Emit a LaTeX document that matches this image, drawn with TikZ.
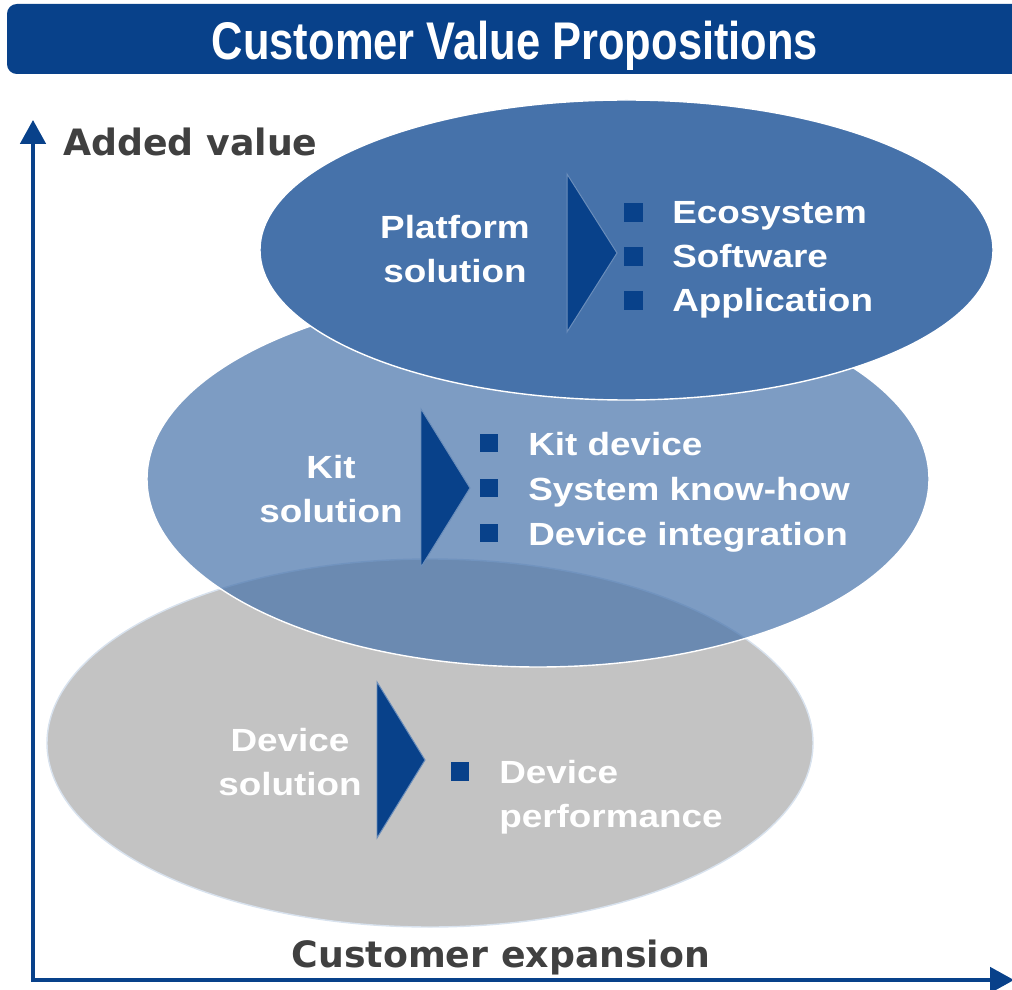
\documentclass[tikz,border=0pt]{standalone}
\usepackage{fontspec}
\usepackage{tikz}
\usetikzlibrary{arrows.meta}
\setmainfont{Liberation Sans}
\newfontfamily\widefont[FakeStretch=1.15]{Liberation Sans}
\newfontfamily\narrowfont[FakeStretch=0.82]{Liberation Sans}
\newfontfamily\axisfont{DejaVu Sans}
\definecolor{navy}{HTML}{08418A}
\definecolor{ovalblue}{HTML}{4672AA}
\definecolor{ovalgrey}{HTML}{C3C3C3}
\definecolor{ovaledge}{HTML}{D8E2EE}
\definecolor{labelgrey}{HTML}{404040}
\tikzset{
  lbl/.style={text=white, align=center, inner sep=0pt, font=\widefont\bfseries\fontsize{22.8pt}{31.6pt}\selectfont},
  itm/.style={text=white, anchor=base west, inner sep=0pt, font=\widefont\bfseries\fontsize{22.8pt}{31.6pt}\selectfont},
  bul/.style={fill=navy, minimum size=13.5pt, inner sep=0pt},
  axlbl/.style={text=labelgrey, anchor=base, inner sep=0pt, font=\axisfont\bfseries\fontsize{25.8pt}{30pt}\selectfont},
  axis/.style={draw=navy, line width=2.6pt, line cap=rect, -{Triangle[length=17pt,width=18pt]}},
  chev/.style={fill=navy, draw=ovalblue!80!white, line width=0.7pt},
}

\begin{document}
\begin{tikzpicture}[x=0.025cm,y=-0.025cm]
\clip (0,0) rectangle (1012,990);
% title bar
\fill[navy, rounded corners=7pt] (7,4) rectangle (1040,74);
\node[text=white, anchor=base, inner sep=0pt, font=\narrowfont\bfseries\fontsize{37.7pt}{40pt}\selectfont] (title) at (515,60) {Customer Value Propositions};
% axes
\coordinate (origin) at (33,980);
\coordinate (ytop) at (33,120);
\coordinate (xend) at (1014,980);
\draw[axis] (origin) -- (ytop);
\draw[axis] (origin) -- (xend);
\node[axlbl, anchor=base west] (yname) at (63,156) {Added value};
\node[axlbl] (xname) at (501,967) {Customer expansion};
% ovals
\draw[fill=ovalgrey, draw=ovaledge, line width=1pt] (430,743) ellipse (383 and 184);
\draw[fill=ovalblue, fill opacity=0.7, draw=white, line width=1pt] (538,479) ellipse (391 and 188);
\draw[fill=ovalblue, draw=white, line width=1pt] (626.5,250) ellipse (366.5 and 150);
% chevrons
\filldraw[chev] (567,174) -- (617,253) -- (567,332) -- cycle;
\filldraw[chev] (421,409) -- (470,488) -- (421,567) -- cycle;
\filldraw[chev] (377,682) -- (425,760) -- (377,838) -- cycle;
% platform
\node[lbl] (platform) at (455,249) {Platform\\solution};
\node[bul] (b1) at (633,212.5) {};
\node[bul] (b2) at (633,256.5) {};
\node[bul] (b3) at (633,300.5) {};
\node[itm] (eco) at (672,224) {Ecosystem};
\node[itm] (soft) at (672,268) {Software};
\node[itm] (app) at (672,312) {Application};
% kit
\node[lbl] (kit) at (331,489) {Kit\\solution};
\node[bul] (b4) at (489,443) {};
\node[bul] (b5) at (489,488) {};
\node[bul] (b6) at (489,533) {};
\node[itm] (kitdev) at (528,455) {Kit device};
\node[itm] (know) at (528,500) {System know-how};
\node[itm] (integ) at (528,545) {Device integration};
% device
\node[lbl] (device) at (290,762) {Device\\solution};
\node[bul] (b7) at (460,771.5) {};
\node[lbl, align=left, anchor=west] (perf) at (499,797) {Device\\performance};
\end{tikzpicture}
\end{document}
